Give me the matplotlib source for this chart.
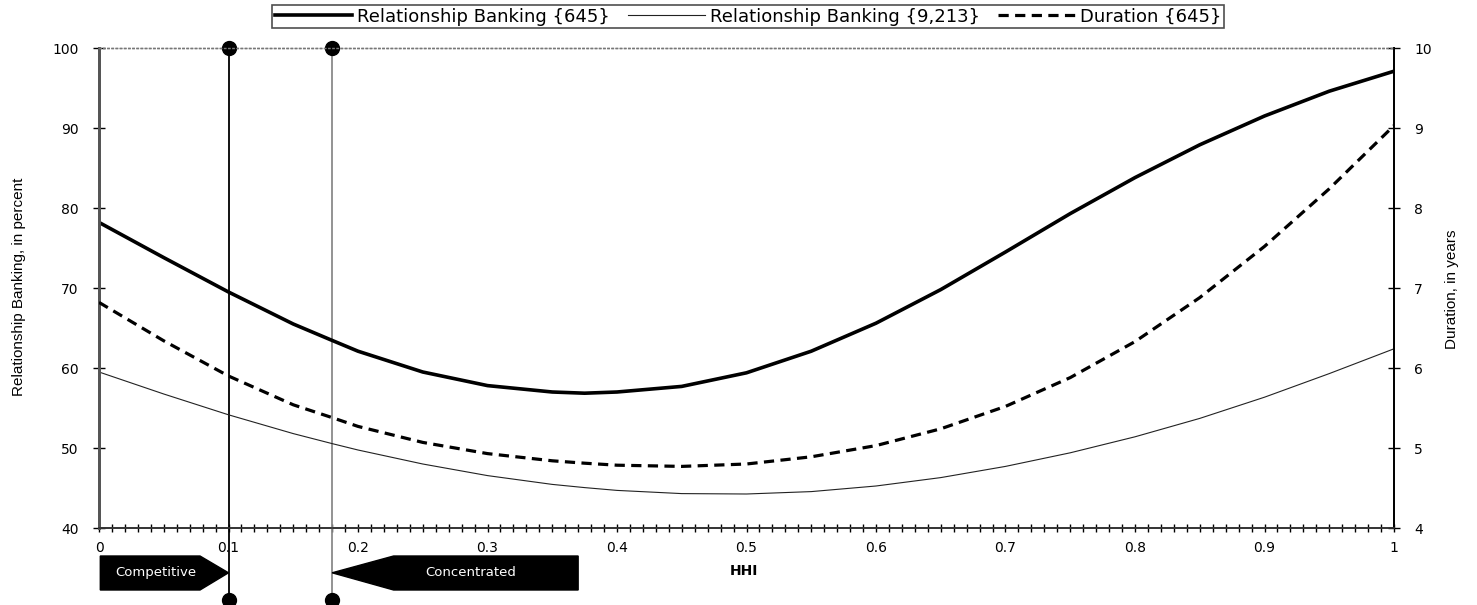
import matplotlib
matplotlib.use("Agg")
import matplotlib.pyplot as plt
from matplotlib.patches import Polygon
from matplotlib.ticker import MultipleLocator, FixedLocator, FixedFormatter

# ---------------- data ----------------
hhi = [0.00, 0.05, 0.10, 0.15, 0.18, 0.20, 0.25, 0.30, 0.35, 0.375, 0.40, 0.45,
       0.50, 0.55, 0.60, 0.65, 0.70, 0.75, 0.80, 0.85, 0.90, 0.95, 1.00]
rb_645 = [78.2, 73.8, 69.5, 65.5, 63.45, 62.1, 59.5, 57.8, 57.0, 56.85, 57.0, 57.7,
          59.4, 62.1, 65.6, 69.8, 74.5, 79.3, 83.8, 87.9, 91.5, 94.6, 97.1]
rb_9213 = [59.5, 56.75, 54.15, 51.8, 50.55, 49.75, 48.0, 46.55, 45.45, 45.05, 44.7, 44.3,
           44.25, 44.55, 45.25, 46.3, 47.7, 49.4, 51.4, 53.7, 56.35, 59.3, 62.4]
dur_645 = [6.82, 6.34, 5.90, 5.54, 5.38, 5.27, 5.07, 4.93, 4.84, 4.81, 4.785, 4.77,
           4.80, 4.89, 5.03, 5.24, 5.52, 5.88, 6.33, 6.88, 7.52, 8.24, 9.03]

labels = ["Relationship Banking {645}", "Relationship Banking {9,213}", "Duration {645}"]
hhi_bounds = [0.10, 0.18]
x_ticks = [0.0, 0.1, 0.2, 0.3, 0.4, 0.5, 0.6, 0.7, 0.8, 0.9, 1.0]
x_ticklabels = ["0", "0.1", "0.2", "0.3", "0.4", "0.5", "0.6", "0.7", "0.8", "0.9", "1"]
y_left_ticks = [40, 50, 60, 70, 80, 90, 100]
y_right_ticks = [4, 5, 6, 7, 8, 9, 10]
region_labels = ["Competitive", "Concentrated"]

# ---------------- figure ----------------
W, H = 1477, 605
fig = plt.figure(figsize=(W / 100, H / 100), dpi=100)
plt.rcParams["font.family"] = ["DejaVu Sans"]

L, R, T, B = 99, 1394, 48, 528
ax = fig.add_axes([L / W, 1 - B / H, (R - L) / W, (B - T) / H])
ax2 = ax.twinx()

ax.set_xlim(0, 1)
ax.set_ylim(40, 100)
ax2.set_ylim(4, 10)

# curves
h1, = ax.plot(hhi, rb_645, color="black", lw=2.6, solid_joinstyle="round", zorder=5)
h2, = ax.plot(hhi, rb_9213, color="#222222", lw=0.8, solid_joinstyle="round", zorder=5)
h3, = ax2.plot(hhi, dur_645, color="black", lw=2.3, linestyle=(0, (3.2, 2.0)),
               dash_capstyle="butt", zorder=5)

# vertical boundary lines with round ends
ybot = 31.0
for xb, col in zip(hhi_bounds, ["black", "#8a8a8a"]):
    ax.plot([xb, xb], [ybot, 100], color=col, lw=1.3, clip_on=False, zorder=3)
    ax.plot([xb, xb], [ybot, 100], linestyle="none", marker="o", ms=10,
            color="black", clip_on=False, zorder=6)

# region arrows under the axis
ytop, ymid, ylow = 36.5, 34.4, 32.25
comp = Polygon([(0.001, ytop), (0.078, ytop), (hhi_bounds[0], ymid), (0.078, ylow), (0.001, ylow)],
               closed=True, facecolor="black", edgecolor="black", clip_on=False, zorder=4)
conc = Polygon([(hhi_bounds[1], ymid), (0.2275, ytop), (0.370, ytop), (0.370, ylow), (0.2275, ylow)],
               closed=True, facecolor="black", edgecolor="black", clip_on=False, zorder=4)
ax.add_patch(comp)
ax.add_patch(conc)
ax.text(0.044, ymid, region_labels[0], color="white", fontsize=9.5, ha="center", va="center",
        clip_on=False, zorder=7)
ax.text(0.287, ymid, region_labels[1], color="white", fontsize=9.5, ha="center", va="center",
        clip_on=False, zorder=7)

# ticks
ax.xaxis.set_major_locator(FixedLocator(x_ticks))
ax.xaxis.set_major_formatter(FixedFormatter(x_ticklabels))
ax.xaxis.set_minor_locator(MultipleLocator(0.01))
ax.tick_params(axis="x", which="both", direction="inout", length=6, width=1.0,
               labelsize=10, pad=6)
ax.set_yticks(y_left_ticks)
ax.tick_params(axis="y", which="major", direction="inout", length=9, width=1.0,
               labelsize=10, pad=10)
ax2.set_yticks(y_right_ticks)
ax2.tick_params(axis="y", which="major", direction="inout", length=9, width=1.0,
                labelsize=10, pad=10)

# spines
for a in (ax, ax2):
    a.spines["top"].set_linestyle((0, (1, 2)))
    a.spines["top"].set_color("#777777")
    a.spines["top"].set_linewidth(1.0)
    a.spines["left"].set_color("#555555")
    a.spines["left"].set_linewidth(2.0)
    a.spines["right"].set_color("black")
    a.spines["right"].set_linewidth(1.3)
    a.spines["bottom"].set_color("#333333")
    a.spines["bottom"].set_linewidth(1.2)

# axis labels
fig.text(19 / W, 1 - 287 / H, "Relationship Banking, in percent", rotation=90,
         ha="center", va="center", fontsize=11,
         family=["Liberation Sans Narrow", "Liberation Sans", "DejaVu Sans"])
fig.text(1452 / W, 1 - 289 / H, "Duration, in years", rotation=90,
         ha="center", va="center", fontsize=11,
         family=["Liberation Sans Narrow", "Liberation Sans", "DejaVu Sans"])
fig.text(744 / W, 1 - 571 / H, "HHI", ha="center", va="center", fontsize=10,
         fontweight="bold")

# legend
leg = fig.legend([h1, h2, h3], labels, loc="center", bbox_to_anchor=(748 / W, 1 - 16.5 / H),
                 ncol=3, frameon=True, fancybox=False, edgecolor="#222222",
                 fontsize=13, handlelength=4.3, handletextpad=0.25, columnspacing=1.0,
                 borderpad=0.15, borderaxespad=0)
leg.get_frame().set_linewidth(1.2)

fig.savefig("out.png", dpi=100)
